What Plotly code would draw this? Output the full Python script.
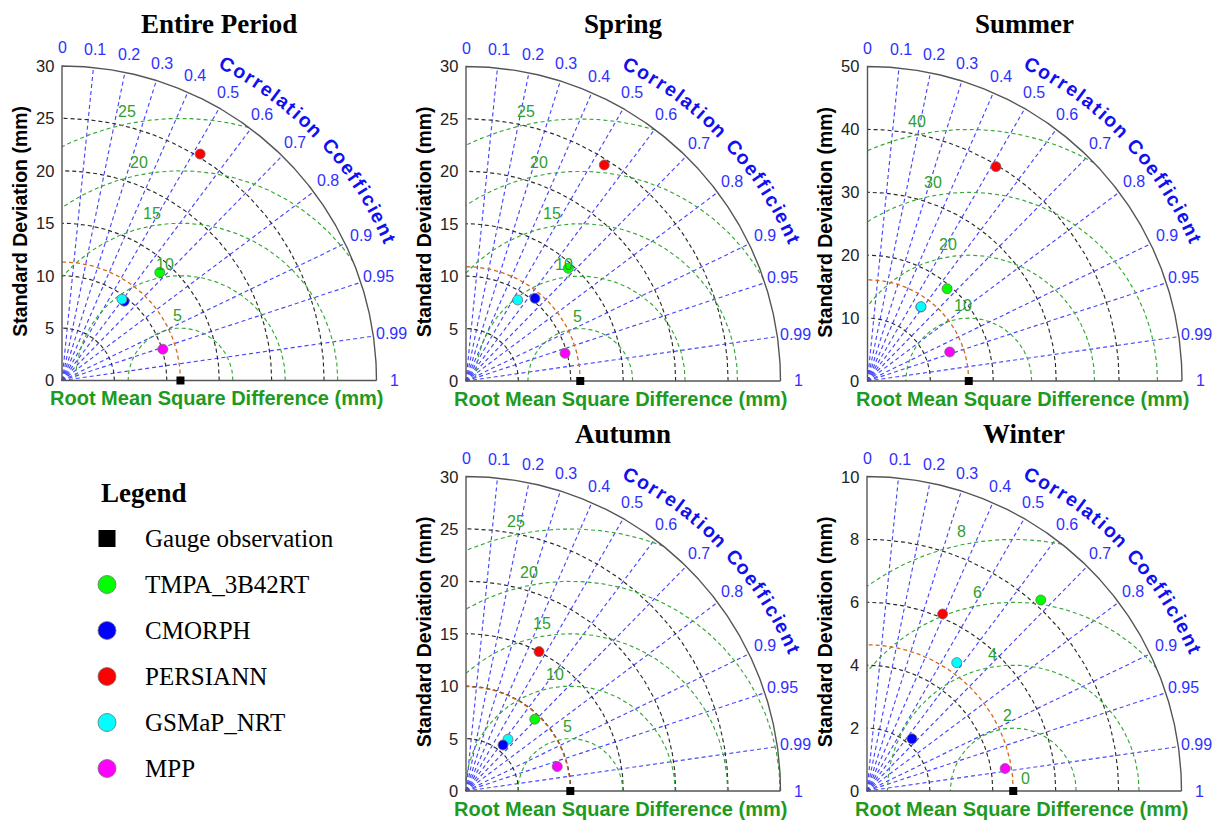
import numpy as np
import plotly.graph_objects as go

# ---------------------------------------------------------------- data ----
panels = ["Entire Period", "Spring", "Summer", "Autumn", "Winter"]
products = ["TMPA_3B42RT", "CMORPH", "PERSIANN", "GSMaP_NRT", "MPP"]
product_colors = ["#00ff00", "#0000ff", "#ff0000", "#00ffff", "#ff00ff"]

# standard deviation of the gauge observations (reference point), mm
gauge_std = [11.3, 10.9, 16.1, 9.95, 4.65]

# standard deviation (mm) and correlation of each product, order as `products`
std_entire = [13.90, 9.62, 25.30, 9.64, 10.07]
corr_entire = [0.671, 0.617, 0.521, 0.593, 0.955]
std_spring = [14.52, 10.27, 24.47, 9.17, 9.81]
corr_spring = [0.672, 0.641, 0.539, 0.538, 0.963]
std_summer = [19.37, 14.50, 39.73, 14.56, 13.86]
corr_summer = [0.653, 0.585, 0.514, 0.584, 0.943]
std_autumn = [9.48, 5.63, 15.01, 6.36, 9.01]
corr_autumn = [0.692, 0.627, 0.464, 0.630, 0.966]
std_winter = [8.21, 2.19, 6.12, 4.98, 4.45]
corr_winter = [0.673, 0.653, 0.393, 0.573, 0.987]

panel_std = [std_entire, std_spring, std_summer, std_autumn, std_winter]
panel_corr = [corr_entire, corr_spring, corr_summer, corr_autumn, corr_winter]

# axis extent and tick spacing of the standard-deviation axes
std_max = [30, 30, 50, 30, 10]
std_step = [5, 5, 10, 5, 2]
# centred RMS difference contour levels
rms_levels = [
    [5, 10, 15, 20, 25],
    [5, 10, 15, 20, 25],
    [10, 20, 30, 40],
    [5, 10, 15, 20, 25],
    [0, 2, 4, 6, 8],
]
# correlation grid and labels
corr_lines = [0.1, 0.2, 0.3, 0.4, 0.5, 0.6, 0.7, 0.8, 0.9, 0.95, 0.99]
corr_labels = [0, 0.1, 0.2, 0.3, 0.4, 0.5, 0.6, 0.7, 0.8, 0.9, 0.95, 0.99, 1]

# -------------------------------------------------------------- layout ----
W, H = 1222, 825
R_PX = 314.5                      # pixel length of the full std axis
origins = [(62, 380.5), (466, 381), (867.5, 381), (466, 791), (867, 791)]
X_LO, X_HI, Y_LO, Y_HI = -0.16, 1.12, -0.09, 1.2   # axis range in units of R
# stacking order of the product markers in each panel (last on top)
draw_order = [
    [0, 2, 4, 1, 3],
    [0, 2, 4, 1, 3],
    [0, 2, 4, 1, 3],
    [0, 2, 4, 3, 1],
    [0, 2, 4, 1, 3],
]

ARIAL = "Arial, Liberation Sans, sans-serif"
TIMES = "Times New Roman, Liberation Serif, serif"
BLUE_GRID = "#4646ff"
GREEN_GRID = "#35a835"
BLACK_GRID = "#2a2a2a"
ORANGE = "#d2691e"
FRAME = "#555555"
LABEL_BLUE = "#3030ff"
TITLE_BLUE = "#1010f0"
RMS_GREEN = "#2f9f2f"
XLABEL_GREEN = "#1e9a1e"
DASH = "4px,3px"
GRID_W = 1.15

# Arial Bold advance widths (em) for the curved axis caption
BOLD_W = {"C": .722, "o": .611, "r": .389, "e": .556, "l": .278, "a": .556,
          "t": .333, "i": .278, "n": .611, " ": .278, "f": .333, "c": .556}

fig = go.Figure()
annotations = []
layout_axes = {}


def refs(i):
    s = "" if i == 0 else str(i + 1)
    return "xaxis" + s, "yaxis" + s, "x" + s, "y" + s


def add_line(x, y, xr, yr, color, width=GRID_W, dash=DASH):
    fig.add_trace(go.Scatter(x=x, y=y, mode="lines", xaxis=xr, yaxis=yr,
                             line=dict(color=color, width=width, dash=dash),
                             hoverinfo="skip", showlegend=False))


def note(xr, yr, x, y, text, size, color, family=ARIAL, angle=0,
         xanchor="center", yanchor="middle"):
    annotations.append(dict(x=x, y=y, xref=xr, yref=yr, text=text,
                            showarrow=False, textangle=angle,
                            xanchor=xanchor, yanchor=yanchor,
                            font=dict(size=size, color=color, family=family)))


for i, name in enumerate(panels):
    R = std_max[i]
    ref = gauge_std[i]
    ox, oy = origins[i]
    xa, ya, xr, yr = refs(i)
    layout_axes[xa] = dict(domain=[(ox + X_LO * R_PX) / W, (ox + X_HI * R_PX) / W],
                           range=[X_LO * R, X_HI * R], visible=False,
                           fixedrange=True, anchor=yr)
    layout_axes[ya] = dict(domain=[1 - (oy - Y_LO * R_PX) / H, 1 - (oy - Y_HI * R_PX) / H],
                           range=[Y_LO * R, Y_HI * R], visible=False,
                           fixedrange=True, anchor=xr)

    # correlation rays
    xs, ys = [], []
    for c in corr_lines:
        th = np.arccos(c)
        xs += [0, R * np.cos(th), None]
        ys += [0, R * np.sin(th), None]
    add_line(xs, ys, xr, yr, BLUE_GRID)

    # standard deviation arcs
    t = np.linspace(0, np.pi / 2, 160)
    xs, ys = [], []
    for s in np.arange(std_step[i], R, std_step[i]):
        xs += list(s * np.cos(t)) + [None]
        ys += list(s * np.sin(t)) + [None]
    add_line(xs, ys, xr, yr, BLACK_GRID)

    # centred RMS difference arcs around the reference point
    xs, ys = [], []
    for lev in rms_levels[i]:
        if lev <= 0:
            continue
        if ref + lev <= R:
            p0 = 0.0
        else:
            p0 = np.arccos(np.clip((R ** 2 - ref ** 2 - lev ** 2) / (2 * ref * lev), -1, 1))
        p1 = np.pi if lev <= ref else np.arccos(-ref / lev)
        p = np.linspace(p0, p1, 200)
        xs += list(ref + lev * np.cos(p)) + [None]
        ys += list(lev * np.sin(p)) + [None]
    add_line(xs, ys, xr, yr, GREEN_GRID)

    # reference standard deviation arc
    add_line(ref * np.cos(t), ref * np.sin(t), xr, yr, ORANGE, width=1.3)

    # frame: axes and outer arc
    tt = np.linspace(0, np.pi / 2, 240)
    fx = [R, 0, 0] + list(R * np.cos(tt[::-1]))
    fy = [0, 0, R] + list(R * np.sin(tt[::-1]))
    add_line(fx, fy, xr, yr, FRAME, width=1.4, dash="solid")

    # products
    for j in draw_order[i]:
        s = panel_std[i][j]
        c = panel_corr[i][j]
        fig.add_trace(go.Scatter(
            x=[s * c], y=[s * np.sqrt(1 - c ** 2)], mode="markers",
            xaxis=xr, yaxis=yr, name=products[j], showlegend=False,
            marker=dict(size=10, color=product_colors[j], symbol="circle",
                        line=dict(color="#707070", width=0.8)),
            cliponaxis=False))

    # gauge reference point
    fig.add_trace(go.Scatter(x=[ref], y=[0], mode="markers", xaxis=xr, yaxis=yr,
                             marker=dict(size=8, color="black", symbol="square"),
                             name="Gauge observation", showlegend=False,
                             cliponaxis=False))

    # std tick labels
    for v in np.arange(0, R + 0.001, std_step[i]):
        note(xr, yr, -0.02 * R, v, f"{v:g}", 16.5, "#222222", xanchor="right")

    # correlation labels
    for c in corr_labels:
        th = np.arccos(c)
        note(xr, yr, 1.058 * R * np.cos(th), 1.058 * R * np.sin(th), f"{c:g}",
             16, LABEL_BLUE)

    # RMS labels along a slanted line next to the reference point
    beta = np.deg2rad(104)
    cx = 0.042 * R
    for lev in rms_levels[i]:
        d = lev + 0.04 * R
        tl = -cx * np.cos(beta) + np.sqrt(max(0.0, cx ** 2 * np.cos(beta) ** 2 - cx ** 2 + d ** 2))
        lx = ref + cx + tl * np.cos(beta)
        ly = max(tl * np.sin(beta), 0.04 * R)
        note(xr, yr, lx, ly, f"{lev:g}", 16, RMS_GREEN)

    # curved caption along the outer arc
    caption = "Correlation Coefficient"
    spacing = 2.0 / 19.0
    pos = [0.0]
    for a, b in zip(caption[:-1], caption[1:]):
        pos.append(pos[-1] + BOLD_W[a] / 2 + BOLD_W[b] / 2 + spacing)
    a0, a1 = np.deg2rad(62.5), np.deg2rad(23.4)
    rc = 1.134 * R
    for ch, p in zip(caption, pos):
        if ch == " ":
            continue
        th = a0 + (a1 - a0) * p / pos[-1]
        note(xr, yr, rc * np.cos(th), rc * np.sin(th), f"<b>{ch}</b>", 19.5,
             TITLE_BLUE, angle=90 - np.rad2deg(th))

    # titles and axis captions
    note(xr, yr, 0.5 * R, 1.135 * R, f"<b>{name}</b>", 27, "black", family=TIMES)
    note(xr, yr, -0.1335 * R, 0.505 * R, "<b>Standard Deviation (mm)</b>", 19.5,
         "black", angle=-90)
    note(xr, yr, 0.492 * R, -0.0566 * R, "<b>Root Mean Square Difference (mm)</b>",
         20, XLABEL_GREEN)

# --------------------------------------------------------------- legend ----
legend_labels = ["Gauge observation"] + products
legend_colors = ["black"] + product_colors
legend_symbols = ["square"] + ["circle"] * len(products)
LEG_X_MARK, LEG_X_TEXT, LEG_Y0, LEG_DY = 107, 143, 538.5, 46
layout_axes["xaxis6"] = dict(domain=[0, 400 / W], range=[0, 400], visible=False,
                             fixedrange=True, anchor="y6")
layout_axes["yaxis6"] = dict(domain=[0, 405 / H], range=[825, 420], visible=False,
                             fixedrange=True, anchor="x6")
for k, lab in enumerate(legend_labels):
    yk = LEG_Y0 + k * LEG_DY
    fig.add_trace(go.Scatter(
        x=[LEG_X_MARK], y=[yk], mode="markers", xaxis="x6", yaxis="y6",
        showlegend=False, hoverinfo="skip",
        marker=dict(size=17 if k == 0 else 18, color=legend_colors[k],
                    symbol=legend_symbols[k],
                    line=dict(color="#707070", width=0 if k == 0 else 0.8))))
    note("x6", "y6", LEG_X_TEXT, yk, lab, 25, "black", family=TIMES, xanchor="left")
note("x6", "y6", 99, 493, "<b>Legend</b>", 27, "black", family=TIMES, xanchor="left")

fig.update_layout(
    width=W, height=H, autosize=False,
    margin=dict(l=0, r=0, t=0, b=0),
    paper_bgcolor="white", plot_bgcolor="rgba(0,0,0,0)",
    showlegend=False, annotations=annotations, **layout_axes)

fig.write_html("out.html")
